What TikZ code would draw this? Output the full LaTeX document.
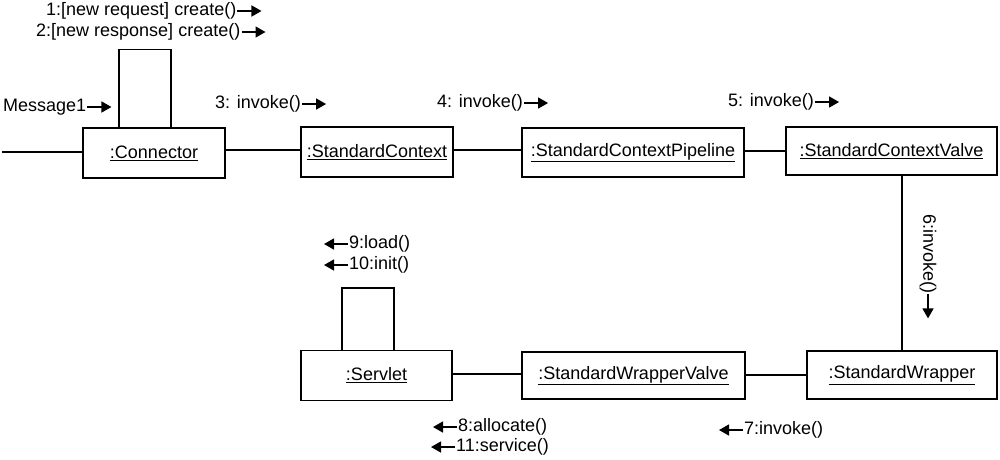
\documentclass[tikz,border=0pt]{standalone}
\usepackage{fontspec}
\setmainfont{Liberation Sans}
\usetikzlibrary{arrows.meta}
\tikzset{
  obj/.style={draw, line width=1.5pt, inner sep=0pt, font=\fontsize{18}{20}\selectfont},
  lbl/.style={inner sep=1pt, font=\fontsize{18}{20}\selectfont},
  msg/.style={line width=1.4pt, -{Triangle[length=10pt,width=11pt]}},
  link/.style={line width=1.5pt},
}
\newcommand{\objname}[1]{\underline{#1}}
\begin{document}
\begin{tikzpicture}[x=1pt,y=-1pt]
\useasboundingbox (0,0) rectangle (1000,459);
% objects
\node[obj, minimum width=142pt, minimum height=50pt] (conn) at (154,153) {\objname{:Connector}};
\node[obj, minimum width=152pt, minimum height=50pt] (ctx) at (377,152) {\objname{:StandardContext}};
\node[obj, minimum width=222pt, minimum height=49pt] (pipe) at (633,152.5) {\objname{:StandardContextPipeline}};
\node[obj, minimum width=211pt, minimum height=48pt] (valve) at (891.5,151) {\objname{:StandardContextValve}};
\node[obj, minimum width=190pt, minimum height=48pt] (wrap) at (902,375) {\objname{:StandardWrapper}};
\node[obj, minimum width=223pt, minimum height=47pt] (wvalve) at (633.5,375.5) {\objname{:StandardWrapperValve}};
\node[obj, minimum width=151pt, minimum height=50pt] (servlet) at (376.5,375.5) {\objname{:Servlet}};
% links
\coordinate (inlet) at (2,152);
\draw[link] (inlet) -- (inlet -| conn.west);
\draw[link] (conn.east |- 0,150) -- (ctx.west |- 0,150);
\draw[link] (ctx.east |- 0,150) -- (pipe.west |- 0,150);
\draw[link] (pipe.east |- 0,151) -- (valve.west |- 0,151);
\draw[link] (valve.south -| wrap.north) -- (wrap.north);
\draw[link] (wrap.west |- 0,375) -- (wvalve.east |- 0,375);
\draw[link] (wvalve.west |- 0,374) -- (servlet.east |- 0,374);
% self links
\draw[link] ([xshift=-35pt]conn.north) -- ++(0,-78) -| ([xshift=17pt]conn.north);
\draw[link] ([xshift=-34.5pt]servlet.north) -- ++(0,-62) -| ([xshift=17.5pt]servlet.north);
% messages (right)
\node[lbl, anchor=west] (l1) at (45,11) {1:[new request] create()};
\draw[msg] (l1.east) -- ++(24,0);
\node[lbl, anchor=west] (l2) at (35,32) {2:[new response] create()};
\draw[msg] (l2.east) -- ++(24,0);
\node[lbl, anchor=west] (m1) at (2,107) {Message1};
\draw[msg] (m1.east) -- ++(24,0);
\node[lbl, anchor=west] (l3) at (214,104) {3: invoke()};
\draw[msg] (l3.east) -- ++(24,0);
\node[lbl, anchor=west] (l4) at (436,103) {4: invoke()};
\draw[msg] (l4.east) -- ++(24,0);
\node[lbl, anchor=west] (l5) at (727,102) {5: invoke()};
\draw[msg] (l5.east) -- ++(24,0);
\node[lbl, rotate=-90, anchor=west] (l6) at (928,213) {6:invoke()};
\draw[msg] (l6.east) -- ++(0,24);
% messages (left)
\node[lbl, anchor=west] (l9) at (348,244) {9:load()};
\draw[msg] (l9.west) -- ++(-24,0);
\node[lbl, anchor=west] (l10) at (348,265) {10:init()};
\draw[msg] (l10.west) -- ++(-24,0);
\node[lbl, anchor=west] (l8) at (457,427) {8:allocate()};
\draw[msg] (l8.west) -- ++(-24,0);
\node[lbl, anchor=west] (l11) at (455,447) {11:service()};
\draw[msg] (l11.west) -- ++(-24,0);
\node[lbl, anchor=west] (l7) at (743,430) {7:invoke()};
\draw[msg] (l7.west) -- ++(-24,0);
\end{tikzpicture}
\end{document}
